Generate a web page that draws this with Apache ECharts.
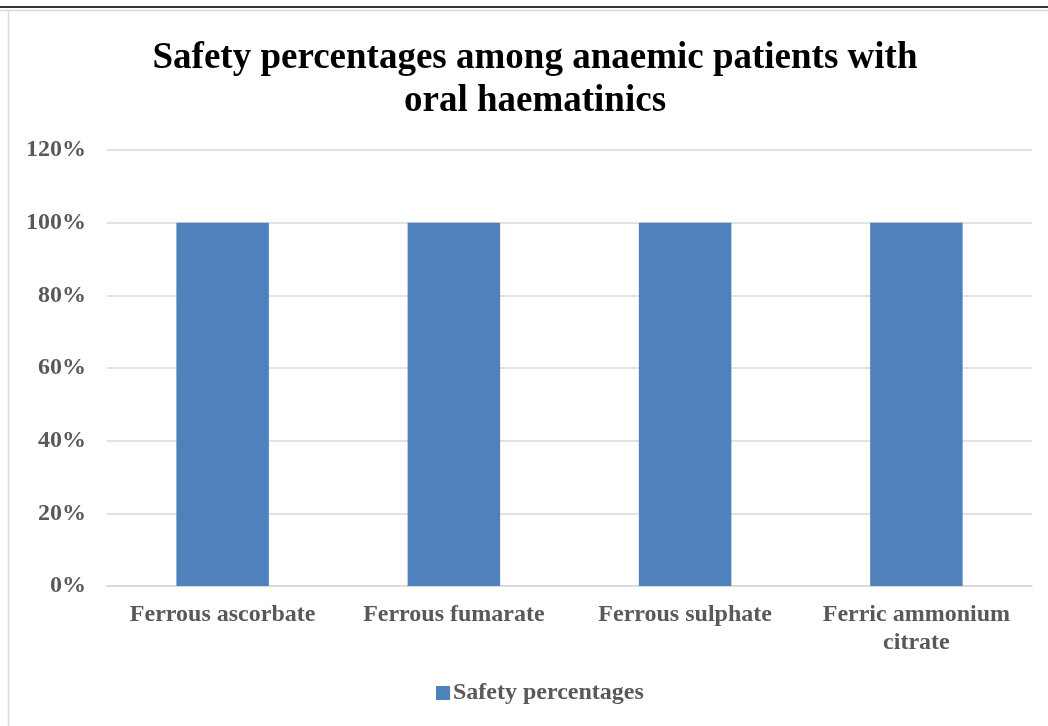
<!DOCTYPE html>
<html><head><meta charset="utf-8">
<script src="https://cdn.jsdelivr.net/npm/echarts@6/dist/echarts.min.js"></script>
<style>html,body{margin:0;padding:0;background:#fff}#c{width:1048px;height:726px}</style>
</head><body><div id="c"></div>
<script>
var categories = ["Ferrous ascorbate", "Ferrous fumarate", "Ferrous sulphate", "Ferric ammonium\ncitrate"];
var safetyValues = [100, 100, 100, 100];
var seriesName = "Safety percentages";
var titleText = "Safety percentages among anaemic patients with\noral haematinics";

var chart = echarts.init(document.getElementById('c'), null, {renderer: 'canvas'});
var serif = '"Liberation Serif", "Times New Roman", serif';
chart.setOption({
  animation: false,
  title: {
    text: titleText, left: 530, textAlign: 'center', top: 32,
    textStyle: {fontFamily: serif, fontWeight: 'bold', fontSize: 37, color: '#000', lineHeight: 43}
  },
  legend: {
    bottom: 16, left: 431, itemWidth: 14, itemHeight: 14, itemGap: 6,
    icon: 'rect',
    textStyle: {fontFamily: serif, fontWeight: 'bold', fontSize: 24, color: '#595959', padding: [0,0,0,-2]}
  },
  grid: {left: 107, right: 16, top: 150, bottom: 140},
  xAxis: {
    type: 'category', data: categories,
    axisLine: {lineStyle: {color: '#d9d9d9', width: 1.5}},
    axisTick: {show: false},
    axisLabel: {fontFamily: serif, fontWeight: 'bold', fontSize: 24, color: '#595959', margin: 15, lineHeight: 28, interval: 0}
  },
  yAxis: {
    type: 'value', min: 0, max: 120, interval: 20,
    axisLabel: {formatter: '{value}%', fontFamily: serif, fontWeight: 'bold', fontSize: 24, color: '#595959', margin: 21},
    splitLine: {lineStyle: {color: '#d9d9d9', width: 1.5}},
    axisLine: {show: false}, axisTick: {show: false}
  },
  series: [{
    name: seriesName, type: 'bar', data: safetyValues,
    barWidth: '40%', itemStyle: {color: '#4f81bd'}
  }],
  graphic: [
    {type: 'line', shape: {x1: 0, y1: 7, x2: 1048, y2: 7}, style: {stroke: '#333', lineWidth: 2}},
    {type: 'line', shape: {x1: 0, y1: 10.5, x2: 1048, y2: 10.5}, style: {stroke: '#d9d9d9', lineWidth: 1.5}},
    {type: 'line', shape: {x1: 8.5, y1: 10, x2: 8.5, y2: 726}, style: {stroke: '#d9d9d9', lineWidth: 1.5}}
  ]
});
</script></body></html>
